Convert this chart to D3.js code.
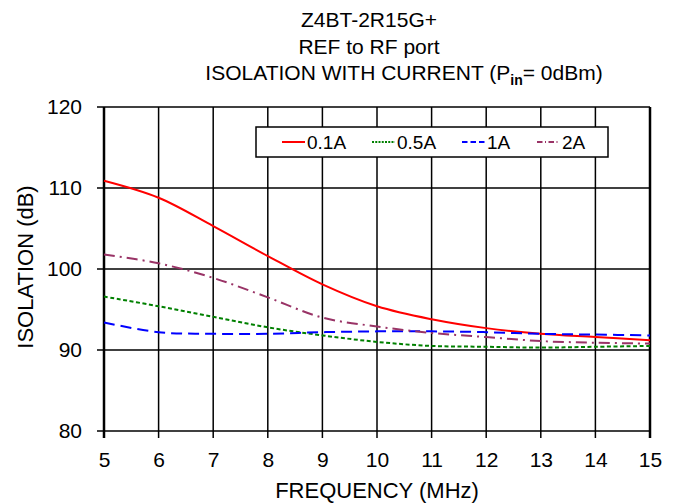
<!DOCTYPE html>
<html><head><meta charset="utf-8">
<script src="https://cdn.jsdelivr.net/npm/d3@7"></script>
<style>body{margin:0;background:#fff}svg{display:block}text{font-family:"Liberation Sans",Arial,sans-serif;fill:#000}</style>
</head><body><svg id="c" width="679" height="504"></svg>
<script>
const freq = [5,6,7,8,9,10,11,12,13,14,15];
const iso01 = [110.9,108.8,105.3,101.6,98.1,95.4,93.8,92.7,92.0,91.6,91.2];
const iso05 = [96.6,95.4,94.1,92.8,91.8,91.0,90.5,90.4,90.3,90.4,90.5];
const iso1  = [93.4,92.2,92.0,92.0,92.2,92.3,92.3,92.2,92.0,91.9,91.8];
const iso2  = [101.8,100.7,98.9,96.5,94.0,92.9,92.1,91.6,91.1,90.9,90.8];
const seriesNames = ["0.1A","0.5A","1A","2A"];
const xTicks = [5,6,7,8,9,10,11,12,13,14,15];
const yTicks = [80,90,100,110,120];

const styles = [
  {c:"#ff0000", d:null},
  {c:"#008000", d:"4,2.5"},
  {c:"#0000ff", d:"11,6"},
  {c:"#993366", d:"11,5,2,5"}
];
const data = [iso01, iso05, iso1, iso2];

const svg = d3.select("#c");
const L=104, R=650, T=107, B=431;
const x = d3.scaleLinear().domain([5,15]).range([L,R]);
const y = d3.scaleLinear().domain([80,120]).range([B,T]);

// grid
const g = svg.append("g");
g.selectAll(".vg").data(xTicks).join("line")
  .attr("x1",d=>x(d)).attr("x2",d=>x(d)).attr("y1",T).attr("y2",B+7)
  .attr("stroke","#000").attr("stroke-width",1.5);
g.selectAll(".hg").data(yTicks).join("line")
  .attr("x1",L-7).attr("x2",R).attr("y1",d=>y(d)).attr("y2",d=>y(d))
  .attr("stroke","#000").attr("stroke-width",1.5);
g.append("line").attr("x1",L).attr("x2",L).attr("y1",T).attr("y2",B+7).attr("stroke","#000").attr("stroke-width",2.5);
g.append("line").attr("x1",R).attr("x2",R).attr("y1",T).attr("y2",B+7).attr("stroke","#000").attr("stroke-width",2.5);

// axes labels via d3 axes (text only)
const xa = svg.append("g").attr("transform",`translate(0,${B})`)
  .call(d3.axisBottom(x).tickValues(xTicks).tickFormat(d3.format("d")).tickSize(0).tickPadding(21));
xa.select(".domain").remove();
xa.selectAll("text").style("font-size","21px").style("font-family","Liberation Sans, Arial, sans-serif");
const ya = svg.append("g").attr("transform",`translate(${L},0)`)
  .call(d3.axisLeft(y).tickValues(yTicks).tickFormat(d3.format("d")).tickSize(0).tickPadding(22));
ya.select(".domain").remove();
ya.selectAll("text").style("font-size","21px").style("font-family","Liberation Sans, Arial, sans-serif");

// lines
const line = d3.line().x((d,i)=>x(freq[i])).y(d=>y(d)).curve(d3.curveCatmullRom.alpha(0.5));
data.forEach((s,i)=>{
  svg.append("path").attr("d",line(s)).attr("fill","none")
    .attr("stroke",styles[i].c).attr("stroke-width",2)
    .attr("stroke-dasharray",styles[i].d);
});

// legend
const lg = svg.append("g");
lg.append("rect").attr("x",256).attr("y",127).attr("width",352).attr("height",30)
  .attr("fill","#fff").attr("stroke","#000").attr("stroke-width",1.5);
const lx = [282,372,462,537];
seriesNames.forEach((n,i)=>{
  lg.append("line").attr("x1",lx[i]).attr("x2",lx[i]+23).attr("y1",142).attr("y2",142)
    .attr("stroke",styles[i].c).attr("stroke-width",2).attr("stroke-dasharray",styles[i].d?styles[i].d.split(",").map(v=>v*0.5).join(","):null);
  lg.append("text").attr("x",lx[i]+25).attr("y",149).style("font-size","19px").text(n);
});

// titles
const cx = 369;
svg.append("text").attr("x",cx).attr("y",27).attr("text-anchor","middle").style("font-size","21px").text("Z4BT-2R15G+");
svg.append("text").attr("x",cx).attr("y",54).attr("text-anchor","middle").style("font-size","21px").text("REF to RF port");
const t3 = svg.append("text").attr("x",404).attr("y",80).attr("text-anchor","middle").style("font-size","21px");
t3.append("tspan").text("ISOLATION WITH CURRENT (P");
t3.append("tspan").attr("dy",5).style("font-size","14px").style("font-weight","bold").text("in");
t3.append("tspan").attr("dy",-5).text("= 0dBm)");

svg.append("text").attr("x",377).attr("y",498).attr("text-anchor","middle").style("font-size","22px").text("FREQUENCY (MHz)");
svg.append("text").attr("transform","translate(33,267) rotate(-90)").attr("text-anchor","middle").style("font-size","22px").text("ISOLATION (dB)");
</script></body></html>
